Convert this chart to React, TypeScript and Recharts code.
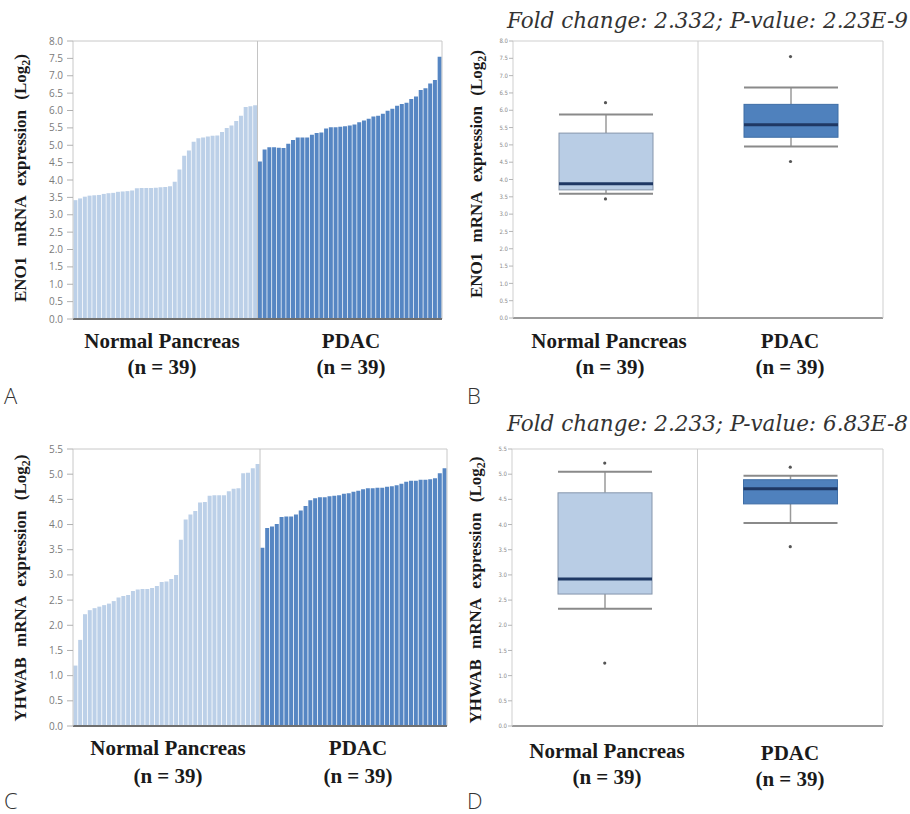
import React from 'react';
import { BarChart, Bar, Cell, XAxis, YAxis, ReferenceLine, ComposedChart, Scatter } from 'recharts';

const groups = ['Normal Pancreas', 'PDAC'];
const groupSizes = ['(n = 39)', '(n = 39)'];

// panel A / B: ENO1
const eno1Normal = [
  3.42, 3.47, 3.52, 3.55, 3.56, 3.57, 3.6, 3.62, 3.63, 3.66, 3.67, 3.68, 3.7, 3.76, 3.77, 3.77, 3.77, 3.78, 3.79, 3.8,
  3.82, 3.95, 4.3, 4.7, 4.85, 5.1, 5.2, 5.22, 5.25, 5.27, 5.28, 5.38, 5.5, 5.57, 5.7, 5.85, 6.1, 6.12, 6.15,
];
const eno1Pdac = [
  4.53, 4.88, 4.94, 4.94, 4.93, 4.92, 5.04, 5.15, 5.22, 5.22, 5.22, 5.3, 5.35, 5.37, 5.48, 5.52, 5.52, 5.53, 5.55, 5.57,
  5.6, 5.66, 5.71, 5.76, 5.83, 5.85, 5.91, 5.99, 6.05, 6.14, 6.19, 6.22, 6.33, 6.4, 6.59, 6.64, 6.78, 6.88, 7.55,
];
const eno1Ticks = [0, 0.5, 1, 1.5, 2, 2.5, 3, 3.5, 4, 4.5, 5, 5.5, 6, 6.5, 7, 7.5, 8];
const eno1WhiskerLow = [3.59, 4.95];
const eno1Q1 = [3.7, 5.22];
const eno1Median = [3.875, 5.58];
const eno1Q3 = [5.34, 6.17];
const eno1WhiskerHigh = [5.88, 6.66];
const eno1Outliers = [[3.44, 6.22], [4.52, 7.55]];

// panel C / D: YWHAB
const ywhabNormal = [
  1.2, 1.71, 2.22, 2.3, 2.34, 2.37, 2.4, 2.43, 2.48, 2.55, 2.58, 2.6, 2.68, 2.71, 2.72, 2.72, 2.74, 2.78, 2.86, 2.87,
  2.92, 3.0, 3.7, 4.1, 4.2, 4.27, 4.44, 4.45, 4.57, 4.58, 4.58, 4.58, 4.66, 4.71, 4.72, 5.02, 5.03, 5.12, 5.2,
];
const ywhabPdac = [
  3.54, 3.93, 3.96, 4.01, 4.15, 4.16, 4.16, 4.2, 4.28, 4.37, 4.48, 4.52, 4.54, 4.54, 4.56, 4.57, 4.58, 4.61, 4.62, 4.65,
  4.67, 4.7, 4.72, 4.72, 4.73, 4.73, 4.75, 4.76, 4.78, 4.81, 4.85, 4.87, 4.87, 4.89, 4.89, 4.9, 4.92, 5.02, 5.12,
];
const ywhabTicks = [0, 0.5, 1, 1.5, 2, 2.5, 3, 3.5, 4, 4.5, 5, 5.5];
const ywhabWhiskerLow = [2.33, 4.03];
const ywhabQ1 = [2.62, 4.41];
const ywhabMedian = [2.92, 4.71];
const ywhabQ3 = [4.63, 4.89];
const ywhabWhiskerHigh = [5.05, 4.97];
const ywhabOutliers = [[1.25, 5.22], [3.56, 5.14]];

const LIGHT = '#bcd0e8';
const DARK = '#5686c3';
const SERIF = '"Liberation Serif", "Times New Roman", serif';

function ExpressionBars({ normal, pdac, ticks, max, margin }) {
  const data = [
    ...normal.map((v, i) => ({ id: `n${i}`, value: v, grp: 0 })),
    ...pdac.map((v, i) => ({ id: `p${i}`, value: v, grp: 1 })),
  ];
  return (
    <BarChart width={460} height={330} data={data} margin={margin} barCategoryGap="8%">
      <XAxis dataKey="id" tick={false} tickLine={false} height={1} axisLine={{ stroke: '#6f6f6f', strokeWidth: 2 }} />
      <YAxis
        domain={[0, max]}
        ticks={ticks}
        interval={0}
        width={73}
        tickSize={6}
        tickMargin={4}
        tickFormatter={(v) => v.toFixed(1)}
        tick={{ fontSize: 10, fill: '#7a7a7a', fontFamily: '"Open Sans", sans-serif' }}
        tickLine={{ stroke: '#b0b0b0' }}
        axisLine={{ stroke: '#c8c8c8' }}
      />
      <Bar dataKey="value" isAnimationActive={false}>
        {data.map((d) => (
          <Cell key={d.id} fill={d.grp === 0 ? LIGHT : DARK} />
        ))}
      </Bar>
      <ReferenceLine y={max} stroke="#c8c8c8" />
      <ReferenceLine x="p0" position="start" stroke="#c4c4c4" />
      <ReferenceLine x={`p${pdac.length - 1}`} position="end" stroke="#c8c8c8" />
    </BarChart>
  );
}

function BoxShape(props) {
  const { x, y, width, height, payload } = props;
  const top = Math.min(y, y + height);
  const bottom = Math.max(y, y + height);
  const span = payload.high - payload.low;
  const py = (v) => bottom - ((v - payload.low) / span) * (bottom - top);
  const cx = x + width / 2;
  const dark = payload.idx === 1;
  return (
    <g>
      <line x1={cx} x2={cx} y1={py(payload.high)} y2={py(payload.q3)} stroke="#9a9a9a" strokeWidth={1.5} />
      <line x1={cx} x2={cx} y1={py(payload.q1)} y2={py(payload.low)} stroke="#9a9a9a" strokeWidth={1.5} />
      <line x1={x} x2={x + width} y1={py(payload.high)} y2={py(payload.high)} stroke="#8a8a8a" strokeWidth={2} />
      <line x1={x} x2={x + width} y1={py(payload.low)} y2={py(payload.low)} stroke="#8a8a8a" strokeWidth={2} />
      <rect
        x={x}
        y={py(payload.q3)}
        width={width}
        height={py(payload.q1) - py(payload.q3)}
        fill={dark ? '#4f81bd' : '#b9cde5'}
        stroke={dark ? '#3f6ea6' : '#8595ab'}
        strokeWidth={1}
      />
      <line x1={x} x2={x + width} y1={py(payload.median)} y2={py(payload.median)} stroke="#1f3864" strokeWidth={3} />
    </g>
  );
}

function OutlierDot(props) {
  const { cx, cy } = props;
  return <circle cx={cx} cy={cy} r={1.6} fill="#555" />;
}

function ExpressionBox({ low, q1, median, q3, high, outliers, ticks, max, margin, yWidth }) {
  const data = groups.map((g, i) => ({
    group: g,
    idx: i,
    range: [low[i], high[i]],
    low: low[i],
    q1: q1[i],
    median: median[i],
    q3: q3[i],
    high: high[i],
  }));
  const outlierData = outliers.flatMap((vals, i) => vals.map((v) => ({ group: groups[i], value: v })));
  return (
    <ComposedChart width={450} height={330} data={data} margin={margin}>
      <XAxis
        dataKey="group"
        type="category"
        allowDuplicatedCategory={false}
        tick={false}
        tickLine={false}
        height={1}
        axisLine={{ stroke: '#9a9a9a', strokeWidth: 2 }}
      />
      <YAxis
        yAxisId="l"
        domain={[0, max]}
        ticks={ticks}
        interval={0}
        width={yWidth}
        tickSize={4}
        tickMargin={1}
        tickFormatter={(v) => v.toFixed(1)}
        tick={{ fontSize: 6, fill: '#8a8a8a', fontFamily: '"DejaVu Sans Condensed", sans-serif' }}
        tickLine={{ stroke: '#b5b5b5' }}
        axisLine={{ stroke: '#cfcfcf' }}
      />
      <YAxis
        yAxisId="r"
        orientation="right"
        domain={[0, max]}
        ticks={ticks}
        interval={0}
        width={8}
        tickSize={3}
        tickFormatter={() => ''}
        tickLine={{ stroke: '#c0c0c0' }}
        axisLine={{ stroke: '#cfcfcf' }}
      />
      <ReferenceLine yAxisId="l" y={max} stroke="#cfcfcf" />
      <ReferenceLine yAxisId="l" x={groups[1]} position="start" stroke="#cfcfcf" />
      <Bar yAxisId="l" dataKey="range" barSize={94} shape={BoxShape} isAnimationActive={false} />
      <Scatter yAxisId="l" data={outlierData} dataKey="value" shape={OutlierDot} isAnimationActive={false} />
    </ComposedChart>
  );
}

function Txt({ x, y, children, size = 21 }) {
  return (
    <div
      style={{
        position: 'absolute',
        left: x - 150,
        top: y - size * 0.6,
        width: 300,
        textAlign: 'center',
        fontFamily: SERIF,
        fontWeight: 'bold',
        fontSize: size,
        lineHeight: `${size * 1.2}px`,
        color: '#1a1a1a',
        whiteSpace: 'nowrap',
      }}
    >
      {children}
    </div>
  );
}

function YTitle({ x, y, gene }) {
  return (
    <div
      style={{
        position: 'absolute',
        left: x - 160,
        top: y - 10,
        width: 320,
        height: 20,
        lineHeight: '20px',
        textAlign: 'center',
        transform: 'rotate(-90deg)',
        fontFamily: SERIF,
        fontWeight: 'bold',
        fontSize: 17,
        wordSpacing: 6,
        color: '#1a1a1a',
        whiteSpace: 'nowrap',
      }}
    >
      {gene} mRNA expression (Log<sub style={{ fontSize: 12 }}>2</sub>)
    </div>
  );
}

function PanelLetter({ x, y, children }) {
  return (
    <div
      style={{
        position: 'absolute',
        left: x,
        top: y,
        fontFamily: '"Open Sans", sans-serif',
        fontWeight: 300,
        fontSize: 22,
        color: '#333',
      }}
    >
      {children}
    </div>
  );
}

function Title({ y, children }) {
  return (
    <div
      style={{
        position: 'absolute',
        left: 507,
        top: y,
        width: 410,
        fontFamily: '"DejaVu Serif", serif',
        fontStyle: 'italic',
        fontSize: 21.5,
        color: '#333',
        whiteSpace: 'nowrap',
      }}
    >
      {children}
    </div>
  );
}

export default function App() {
  return (
    <div style={{ position: 'absolute', left: 0, top: 0, width: 910, height: 814, background: '#fff', overflow: 'hidden' }}>
      <div style={{ position: 'absolute', left: 0, top: 0 }}>
        <ExpressionBars normal={eno1Normal} pdac={eno1Pdac} ticks={eno1Ticks} max={8} margin={{ top: 41, right: 18, bottom: 10, left: 0 }} />
      </div>
      <div style={{ position: 'absolute', left: 460, top: 0 }}>
        <ExpressionBox
          low={eno1WhiskerLow}
          q1={eno1Q1}
          median={eno1Median}
          q3={eno1Q3}
          high={eno1WhiskerHigh}
          outliers={eno1Outliers}
          ticks={eno1Ticks}
          max={8}
          yWidth={53}
          margin={{ top: 41, right: 19, bottom: 11, left: 0 }}
        />
      </div>
      <div style={{ position: 'absolute', left: 0, top: 410 }}>
        <ExpressionBars normal={ywhabNormal} pdac={ywhabPdac} ticks={ywhabTicks} max={5.5} margin={{ top: 39, right: 13, bottom: 13, left: 0 }} />
      </div>
      <div style={{ position: 'absolute', left: 460, top: 410 }}>
        <ExpressionBox
          low={ywhabWhiskerLow}
          q1={ywhabQ1}
          median={ywhabMedian}
          q3={ywhabQ3}
          high={ywhabWhiskerHigh}
          outliers={ywhabOutliers}
          ticks={ywhabTicks}
          max={5.5}
          yWidth={52}
          margin={{ top: 39, right: 19, bottom: 13, left: 0 }}
        />
      </div>

      <Title y={8}>Fold change: 2.332; P-value: 2.23E-9</Title>
      <Title y={411}>Fold change: 2.233; P-value: 6.83E-8</Title>

      <YTitle x={21} y={178} gene="ENO1" />
      <YTitle x={477} y={174} gene="ENO1" />
      <YTitle x={21} y={588} gene="YHWAB" />
      <YTitle x={476} y={590} gene="YHWAB" />

      <Txt x={162} y={342}>{groups[0]}</Txt>
      <Txt x={351} y={342}>{groups[1]}</Txt>
      <Txt x={162} y={368}>{groupSizes[0]}</Txt>
      <Txt x={351} y={368}>{groupSizes[1]}</Txt>

      <Txt x={609} y={342}>{groups[0]}</Txt>
      <Txt x={790} y={342}>{groups[1]}</Txt>
      <Txt x={610} y={368}>{groupSizes[0]}</Txt>
      <Txt x={790} y={368}>{groupSizes[1]}</Txt>

      <Txt x={168} y={749}>{groups[0]}</Txt>
      <Txt x={358} y={749}>{groups[1]}</Txt>
      <Txt x={168} y={777}>{groupSizes[0]}</Txt>
      <Txt x={358} y={777}>{groupSizes[1]}</Txt>

      <Txt x={607} y={752}>{groups[0]}</Txt>
      <Txt x={790} y={754}>{groups[1]}</Txt>
      <Txt x={607} y={778}>{groupSizes[0]}</Txt>
      <Txt x={790} y={780}>{groupSizes[1]}</Txt>

      <PanelLetter x={4} y={380}>A</PanelLetter>
      <PanelLetter x={467} y={380}>B</PanelLetter>
      <PanelLetter x={4} y={785}>C</PanelLetter>
      <PanelLetter x={467} y={785}>D</PanelLetter>
    </div>
  );
}
